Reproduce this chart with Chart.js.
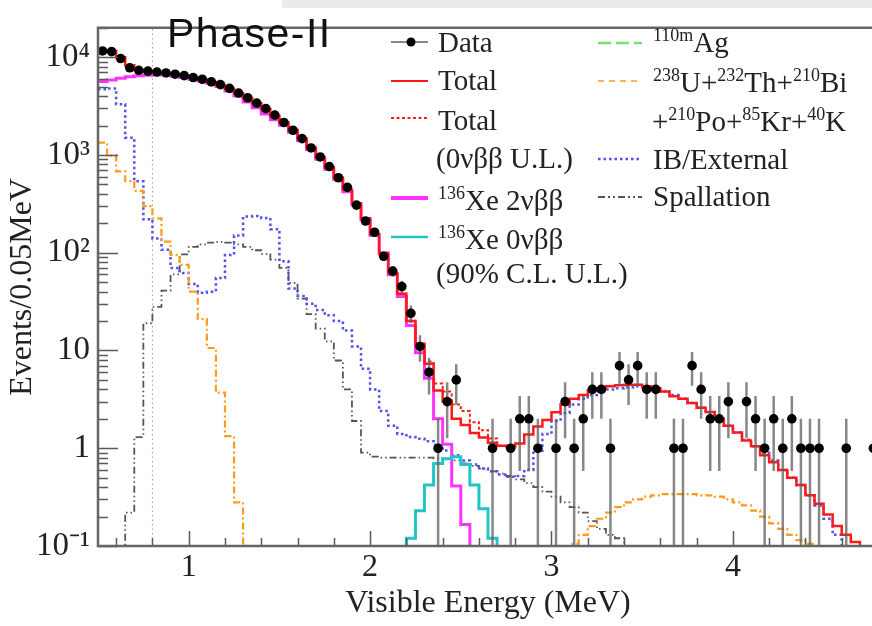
<!DOCTYPE html>
<html>
<head>
<meta charset="utf-8">
<script src="https://cdn.jsdelivr.net/npm/chart.js@4.4.1/dist/chart.umd.min.js"></script>
<style>
  html, body { margin: 0; padding: 0; background: #fff; overflow: hidden; }
  #wrap { position: relative; width: 872px; height: 626px; overflow: hidden; }
  #wrap canvas { position: absolute; left: 0; top: 0; }
  .topband { position: absolute; left: 282px; top: 0; width: 590px; height: 8px; background: #ebebeb; }
  .lg { position: absolute; font-family: "Liberation Serif", "Times New Roman", serif; font-size: 29px;
        color: #222; line-height: 30px; white-space: nowrap; }
  .lg sup { font-size: 18px; vertical-align: 0; position: relative; top: -11px; }
  .phase { position: absolute; left: 167px; top: 13px; font-family: "Liberation Sans", Arial, sans-serif;
           font-size: 41px; line-height: 41px; letter-spacing: 1.5px; color: #111; }
  svg.sym { position: absolute; left: 0; top: 0; pointer-events: none; }
</style>
</head>
<body>
<div id="wrap">
  <canvas id="spectrum" width="890" height="626"></canvas>
  <div class="topband"></div>
  <div class="phase">Phase-II</div>

  <svg class="sym" width="872" height="626">
    <line x1="391" y1="42" x2="428" y2="42" stroke="#888" stroke-width="2"/>
    <circle cx="411" cy="42" r="4.5" fill="#000"/>
    <line x1="391" y1="81" x2="428" y2="81" stroke="#ff1a1a" stroke-width="2"/>
    <line x1="391" y1="118" x2="428" y2="118" stroke="#ff1a1a" stroke-width="2" stroke-dasharray="3 2.5"/>
    <line x1="391" y1="198" x2="428" y2="198" stroke="#ff33ff" stroke-width="4"/>
    <line x1="391" y1="237" x2="428" y2="237" stroke="#22c4c4" stroke-width="2.5"/>
    <line x1="598" y1="43" x2="642" y2="43" stroke="#77dd77" stroke-width="2.5" stroke-dasharray="13 5"/>
    <line x1="598" y1="81" x2="642" y2="81" stroke="#ff9a1a" stroke-width="1.5" stroke-dasharray="6 5"/>
    <line x1="598" y1="159" x2="642" y2="159" stroke="#5050f0" stroke-width="2.5" stroke-dasharray="2.5 3"/>
    <line x1="598" y1="197" x2="642" y2="197" stroke="#555" stroke-width="2" stroke-dasharray="7 3 2 3 2 3"/>
  </svg>

  <div class="lg" style="left:438px;top:27px">Data</div>
  <div class="lg" style="left:438px;top:65px">Total</div>
  <div class="lg" style="left:438px;top:105px">Total</div>
  <div class="lg" style="left:436px;top:143px">(0νββ U.L.)</div>
  <div class="lg" style="left:438px;top:185px"><sup>136</sup>Xe 2νββ</div>
  <div class="lg" style="left:438px;top:224px"><sup>136</sup>Xe 0νββ</div>
  <div class="lg" style="left:436px;top:258px">(90% C.L. U.L.)</div>
  <div class="lg" style="left:653px;top:27px"><sup>110m</sup>Ag</div>
  <div class="lg" style="left:653px;top:67px"><sup>238</sup>U+<sup>232</sup>Th+<sup>210</sup>Bi</div>
  <div class="lg" style="left:652px;top:106px">+<sup>210</sup>Po+<sup>85</sup>Kr+<sup>40</sup>K</div>
  <div class="lg" style="left:653px;top:144px">IB/External</div>
  <div class="lg" style="left:653px;top:181px">Spallation</div>
</div>

<script>
(function () {
    'use strict';

    const SERIF = "'Liberation Serif', 'Times New Roman', serif";

    // 0.05 MeV bins starting at 0.5 MeV (86 bins up to 4.8 MeV)
    const BIN_START = 0.5;
    const BIN_WIDTH = 0.05;
    const X_TICKS = [1, 2, 3, 4];
    const Y_TICKS = [0.1, 1, 10, 100, 1000, 10000];
    const Y_TICK_LABELS = ['10\u207B\u00B9', '1', '10', '10\u00B2', '10\u00B3', '10\u2074'];
    const THRESHOLD = 0.8;
    const N = null;

    const dataCounts = [
        11600, 11400, 9700, 7800, 7350, 7200, 7050, 6900, 6700, 6480,
        6200, 5950, 5600, 5250, 4800, 4300, 3850, 3400, 2980, 2560,
        2150, 1790, 1470, 1180, 955, 762, 585, 467, 307, 211,
        162, 92, 65, 45, 24, 11, 6, 1, 3, 5,
        0, 0, 0, 1, 0, 1, 2, 2, 1, 0,
        1, 3, 1, 2, 4, 4, 1, 7, 5, 7,
        4, 4, 0, 1, 1, 7, 4, 2, 2, 3,
        0, 3, 2, 1, 2, 1, 2, 1, 1, 1,
        0, 0, 1, 0, 0, 1
    ];

    const total = [
        11600, 11600, 10000, 8300, 7400, 7100, 7000, 6860, 6680, 6450,
        6170, 5890, 5570, 5200, 4750, 4290, 3830, 3380, 2950, 2520,
        2150, 1800, 1480, 1190, 950, 750, 590, 440, 320, 225,
        155, 100, 62, 38, 20, 11.7, 7.3, 3.9, 3.0, 2.0,
        1.73, 1.43, 1.29, 1.14, 1.06, 1.04, 1.12, 1.38, 1.67, 1.94,
        2.34, 2.8, 3.2, 3.5, 3.9, 4.1, 4.3, 4.4, 4.46, 4.46,
        4.3, 4.1, 3.8, 3.4, 3.2, 2.9, 2.6, 2.35, 2.0, 1.7,
        1.45, 1.2, 1.05, 0.85, 0.72, 0.6, 0.5, 0.42, 0.33, 0.27,
        0.21, 0.16, 0.13, 0.11, 0.09, 0.07
    ];

    // Total with 0vbb at its upper limit (only differs around 2.2-2.7 MeV)
    const totalUL = [
        N, N, N, N, N, N, N, N, N, N,
        N, N, N, N, N, N, N, N, N, N,
        N, N, N, N, N, N, N, N, N, N,
        N, N, N, 38, 20.1, 11.9, 7.7, 4.6, 3.8, 2.8,
        2.4, 1.85, 1.53, 1.26, 1.06, 1.04, N, N, N, N,
        N, N, N, N, N, N, N, N, N, N,
        N, N, N, N, N, N, N, N, N, N,
        N, N, N, N, N, N, N, N, N, N,
        N, N, N, N, N, N
    ];

    const xe2nu = [
        5650, 5850, 6100, 6300, 6450, 6550, 6625, 6585, 6440, 6220,
        5970, 5710, 5390, 5010, 4510, 4010, 3480, 3035, 2630, 2290,
        2020, 1710, 1410, 1140, 907, 715, 562, 420, 307, 217,
        150, 97, 59.5, 35.7, 18, 9.5, 5.2, 2.0, 1.1, 0.41,
        0.166, 0, 0, 0, 0, 0, 0, 0, 0, 0,
        0, 0, 0, 0, 0, 0, 0, 0, 0, 0,
        0, 0, 0, 0, 0, 0, 0, 0, 0, 0,
        0, 0, 0, 0, 0, 0, 0, 0, 0, 0,
        0, 0, 0, 0, 0, 0
    ];

    const xe0nu = [
        0, 0, 0, 0, 0, 0, 0, 0, 0, 0,
        0, 0, 0, 0, 0, 0, 0, 0, 0, 0,
        0, 0, 0, 0, 0, 0, 0, 0, 0, 0,
        0, 0, 0, 0, 0.12, 0.23, 0.42, 0.70, 0.78, 0.82,
        0.68, 0.42, 0.24, 0.12, 0, 0, 0, 0, 0, 0,
        0, 0, 0, 0, 0, 0, 0, 0, 0, 0,
        0, 0, 0, 0, 0, 0, 0, 0, 0, 0,
        0, 0, 0, 0, 0, 0, 0, 0, 0, 0,
        0, 0, 0, 0, 0, 0
    ];

    const uThBi = [
        1340, 990, 680, 540, 430, 300, 225, 130, 95, 75,
        40, 21, 10.6, 3.7, 1.33, 0.28, 0, 0, 0, 0,
        0, 0, 0, 0, 0, 0, 0, 0, 0, 0,
        0, 0, 0, 0, 0, 0, 0, 0, 0, 0,
        0, 0, 0, 0, 0, 0, 0, 0, 0, 0,
        0, 0, 0.105, 0.13, 0.16, 0.19, 0.22, 0.25, 0.28, 0.3,
        0.32, 0.33, 0.34, 0.34, 0.34, 0.34, 0.33, 0.33, 0.32, 0.3,
        0.28, 0.26, 0.23, 0.2, 0.17, 0.15, 0.13, 0.115, 0.105, 0,
        0, 0, 0, 0, 0, 0
    ];

    const ibExternal = [
        4700, 4800, 3300, 1500, 540, 220, 140, 107, 70, 62,
        48, 39, 40, 55, 95, 150, 235, 238, 227, 174,
        82, 43, 36, 30, 26, 23, 20, 16, 11, 6.5,
        4.0, 2.4, 1.7, 1.4, 1.3, 1.25, 1.18, 1.08, 0.95, 0.85,
        0.75, 0.68, 0.62, 0.58, 0.54, 0.51, 0.52, 0.6, 0.95, 1.4,
        1.9, 2.3, 2.8, 3.2, 3.5, 3.8, 4.0, 4.1, 4.2, 4.3,
        4.2, 4.0, 3.8, 3.5, 3.2, 2.9, 2.6, 2.3, 2.0, 1.7,
        1.45, 1.22, 1.05, 0.9, 0.75, 0.6, 0.5, 0.42, 0.33, 0.26,
        0.19, 0.13, 0, 0, 0, 0
    ];

    const spallation = [
        0, 0, 0, 0.22, 1.3, 19, 28, 41, 60, 96,
        115, 122, 127, 129, 127, 122, 115, 106, 97, 85,
        70, 49, 34, 23.5, 16.7, 12.4, 7.9, 4.0, 1.9, 0.9,
        0.82, 0.8, 0.8, 0.8, 0.8, 0.8, 0.8, 0.79, 0.78, 0.75,
        0.7, 0.66, 0.62, 0.58, 0.55, 0.52, 0.48, 0.44, 0.4, 0.36,
        0.32, 0.28, 0.25, 0.22, 0.18, 0.15, 0.13, 0.12, 0, 0,
        0, 0, 0, 0, 0, 0, 0, 0, 0, 0,
        0, 0, 0, 0, 0, 0, 0, 0, 0, 0,
        0, 0, 0, 0, 0, 0
    ];

    // empty bins sit far below the log axis so their edges drop to the frame
    const FLOOR = 1e-3;
    const nBins = dataCounts.length;
    const lowEdge = i => BIN_START + i * BIN_WIDTH;
    const X_MIN = BIN_START;
    const X_MAX = lowEdge(nBins);

    function histPoints(values) {
        const pts = values.map((v, i) => ({ x: lowEdge(i), y: v === null ? null : (v > 0 ? v : FLOOR) }));
        const last = pts[pts.length - 1].y;
        pts.push({ x: X_MAX, y: last });
        return pts;
    }

    function histDataset(label, values, color, width, dash) {
        return {
            label: label,
            data: histPoints(values),
            borderColor: color,
            borderWidth: width,
            borderDash: dash || [],
            stepped: 'before',
            pointRadius: 0,
            fill: false,
            spanGaps: false,
            clip: 0
        };
    }

    // data points at bin centres with sqrt(N) error bars
    const dataPoints = [];
    const errorBars = [];
    dataCounts.forEach((n, i) => {
        if (n <= 0) return;
        const x = lowEdge(i) + BIN_WIDTH / 2;
        const err = Math.sqrt(n);
        dataPoints.push({ x: x, y: n });
        errorBars.push({ x: x, y: Math.max(n - err, FLOOR) });
        errorBars.push({ x: x, y: n + err });
        errorBars.push({ x: x, y: null });
    });

    // frame and inward ROOT-style ticks
    const frameTicks = {
        id: 'frameTicks',
        afterDraw(chart) {
            const { ctx, chartArea: a, scales: { x, y } } = chart;
            ctx.save();
            ctx.strokeStyle = '#5a5a5a';
            ctx.lineWidth = 1.5;
            ctx.beginPath();
            for (let d = -1; d <= 4; d++) {
                for (let k = 1; k <= 9; k++) {
                    const v = k * Math.pow(10, d);
                    if (v > y.max * 1.0001) continue;
                    const py = Math.round(y.getPixelForValue(v)) + 0.5;
                    const len = k === 1 ? 20 : 10;
                    ctx.moveTo(a.left, py);
                    ctx.lineTo(a.left + len, py);
                }
            }
            for (let t = 6; t <= 48; t += 2) {
                const v = t / 10;
                const px = Math.round(x.getPixelForValue(v)) + 0.5;
                const len = (t % 10 === 0) ? 15 : 8;
                ctx.moveTo(px, a.bottom);
                ctx.lineTo(px, a.bottom - len);
            }
            ctx.stroke();

            ctx.strokeStyle = '#666';
            ctx.lineWidth = 2.5;
            ctx.beginPath();
            ctx.moveTo(a.right + 20, a.bottom);
            ctx.lineTo(a.left, a.bottom);
            ctx.lineTo(a.left, a.top);
            ctx.lineTo(a.right + 20, a.top);
            ctx.stroke();
            ctx.restore();
        }
    };

    const datasets = [
        {
            label: 'Data',
            data: dataPoints,
            showLine: false,
            pointRadius: 4.8,
            pointBackgroundColor: '#000',
            pointBorderWidth: 0,
            clip: 0
        },
        {
            label: 'errors',
            data: errorBars,
            borderColor: 'rgba(95,95,95,0.75)',
            borderWidth: 2.5,
            pointRadius: 0,
            spanGaps: false,
            clip: 0
        },
        histDataset('Total', total, '#ff1a1a', 2.5),
        histDataset('Total (0vbb U.L.)', totalUL, '#ff1a1a', 2, [3, 2.5]),
        histDataset('136Xe 0vbb', xe0nu, '#22c4c4', 3),
        histDataset('136Xe 2vbb', xe2nu, '#ff33ff', 3),
        histDataset('U+Th+Bi', uThBi, '#ff9a1a', 2.2, [7, 3, 2, 3]),
        histDataset('IB/External', ibExternal, '#5050f0', 2.5, [2.5, 3]),
        histDataset('Spallation', spallation, '#555', 1.8, [7, 3, 1.5, 3, 1.5, 3]),
        {
            label: 'threshold',
            data: [{ x: THRESHOLD, y: FLOOR }, { x: THRESHOLD, y: 1e6 }],
            borderColor: '#a0a0a0',
            borderWidth: 1,
            borderDash: [1.5, 3],
            pointRadius: 0,
            clip: 0
        }
    ];

    new Chart(document.getElementById('spectrum'), {
        type: 'line',
        data: { datasets: datasets },
        options: {
            responsive: false,
            animation: false,
            layout: { padding: { top: 9, right: 12, left: 0, bottom: 0 } },
            plugins: { legend: { display: false }, tooltip: { enabled: false } },
            scales: {
                x: {
                    type: 'linear',
                    min: X_MIN,
                    max: X_MAX,
                    afterBuildTicks: s => { s.ticks = X_TICKS.map(v => ({ value: v })); },
                    afterFit: s => { s.height = 80; },
                    grid: { display: false, drawTicks: false },
                    border: { display: false },
                    ticks: { font: { family: SERIF, size: 32 }, color: '#222', padding: 2, maxRotation: 0, autoSkip: false },
                    title: {
                        display: true, text: 'Visible Energy (MeV)', color: '#222',
                        font: { family: SERIF, size: 32 }, padding: { top: 0, bottom: 3 }
                    }
                },
                y: {
                    type: 'logarithmic',
                    min: 0.1,
                    max: 20000,
                    afterBuildTicks: s => { s.ticks = Y_TICKS.map(v => ({ value: v })); },
                    afterFit: s => { s.width = 98; },
                    grid: { display: false, drawTicks: false },
                    border: { display: false },
                    ticks: {
                        font: { family: SERIF, size: 33 }, color: '#222', padding: 8, autoSkip: false,
                        callback: (v, i) => Y_TICK_LABELS[i]
                    },
                    title: {
                        display: true, text: 'Events/0.05MeV', color: '#222',
                        font: { family: SERIF, size: 32 }, padding: { top: 3, bottom: 0 }
                    }
                }
            }
        },
        plugins: [frameTicks]
    });
})();
</script>
</body>
</html>
